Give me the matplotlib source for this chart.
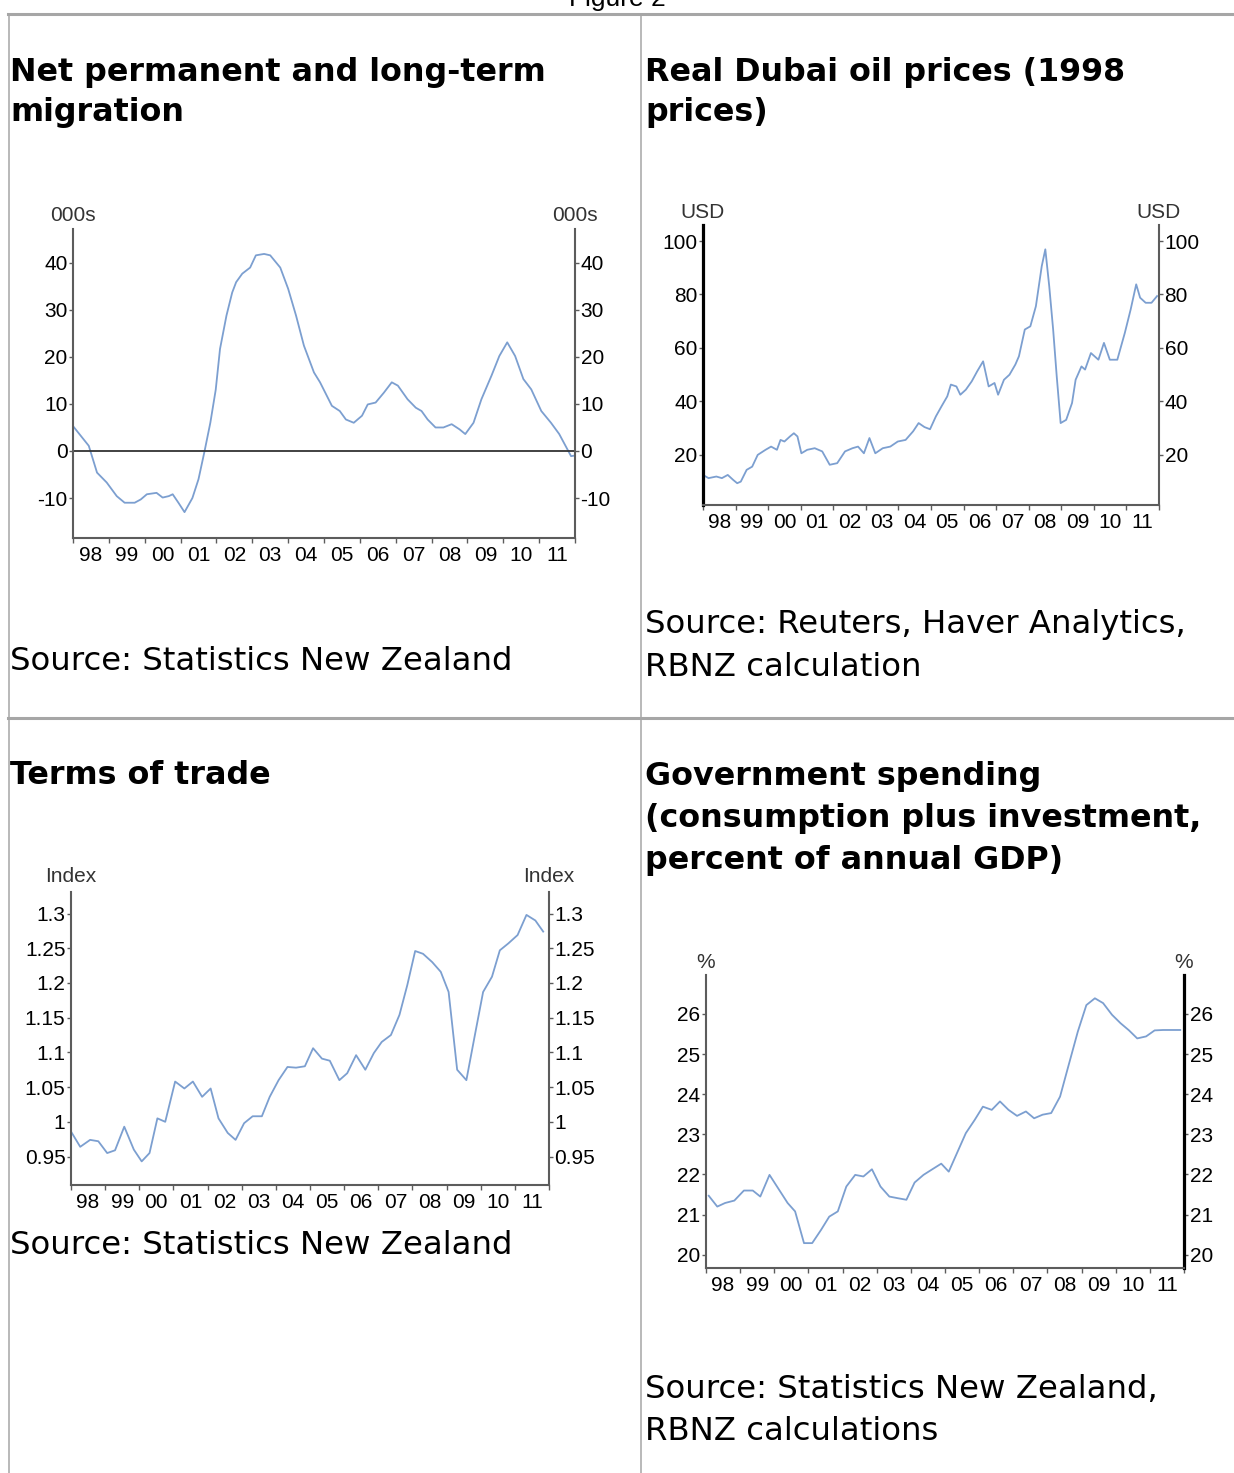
import matplotlib.pyplot as plt
import numpy as np
from matplotlib.lines import Line2D

W, H = 1234, 1473

# x axis labels shared by all four charts
years = np.arange(1998, 2013)
year_labels = ['98', '99', '00', '01', '02', '03', '04', '05', '06', '07', '08', '09', '10', '11']

# Net permanent and long-term migration (000s)
mig_t = [1998.0, 1998.44, 1998.67, 1998.94, 1999.22, 1999.44, 1999.72, 1999.89, 2000.06, 2000.33,
         2000.5, 2000.67, 2000.78, 2000.94, 2001.11, 2001.33, 2001.5, 2001.67, 2001.83, 2001.98,
         2002.1, 2002.28, 2002.44, 2002.55, 2002.72, 2002.94, 2003.1, 2003.33, 2003.5, 2003.78,
         2004.0, 2004.22, 2004.44, 2004.72, 2004.89, 2005.22, 2005.44, 2005.61, 2005.83, 2006.06,
         2006.22, 2006.44, 2006.67, 2006.89, 2007.06, 2007.33, 2007.56, 2007.72, 2007.89, 2008.11,
         2008.33, 2008.56, 2008.78, 2008.94, 2009.17, 2009.39, 2009.67, 2009.89, 2010.11, 2010.33,
         2010.56, 2010.78, 2011.06, 2011.33, 2011.56, 2011.89, 2011.97]
mig_v = [5.3, 1.1, -4.6, -6.7, -9.6, -11.0, -11.0, -10.3, -9.2, -8.9,
         -9.9, -9.6, -9.2, -11.0, -13.0, -10.0, -6.0, 0.0, 6.0, 13.0,
         21.7, 28.8, 33.7, 35.9, 37.7, 39.0, 41.6, 41.9, 41.6, 39.0,
         34.5, 28.8, 22.4, 16.7, 14.6, 9.6, 8.5, 6.7, 6.0, 7.5,
         9.9, 10.3, 12.4, 14.6, 13.9, 11.0, 9.2, 8.5, 6.7, 5.0,
         5.0, 5.7, 4.6, 3.6, 6.0, 11.0, 16.0, 20.2, 23.1, 20.2,
         15.3, 13.1, 8.5, 6.0, 3.6, -1.1, -1.0]

# Real Dubai oil prices (USD, 1998 prices)
oil_t = [1998.0, 1998.17, 1998.41, 1998.58, 1998.76, 1998.93, 1999.05, 1999.16, 1999.34, 1999.51,
         1999.68, 1999.92, 2000.09, 2000.27, 2000.38, 2000.5, 2000.67, 2000.79, 2000.9, 2001.02,
         2001.2, 2001.43, 2001.66, 2001.89, 2002.12, 2002.36, 2002.59, 2002.76, 2002.94, 2003.11,
         2003.29, 2003.52, 2003.75, 2003.98, 2004.22, 2004.45, 2004.62, 2004.8, 2004.97, 2005.15,
         2005.32, 2005.5, 2005.61, 2005.78, 2005.9, 2006.07, 2006.25, 2006.42, 2006.6, 2006.77,
         2006.95, 2007.06, 2007.24, 2007.41, 2007.59, 2007.7, 2007.88, 2008.05, 2008.22, 2008.4,
         2008.51, 2008.63, 2008.75, 2008.86, 2008.98, 2009.15, 2009.33, 2009.44, 2009.62, 2009.73,
         2009.91, 2010.14, 2010.31, 2010.49, 2010.72, 2010.95, 2011.13, 2011.3, 2011.42, 2011.59,
         2011.77, 2011.94]
oil_v = [12.5, 11.3, 11.9, 11.3, 12.5, 10.6, 9.4, 10.0, 14.4, 15.6,
         20.0, 21.9, 23.1, 21.9, 25.6, 25.0, 26.9, 28.1, 26.9, 20.6,
         21.9, 22.5, 21.3, 16.3, 16.9, 21.3, 22.5, 23.1, 20.6, 26.3,
         20.6, 22.5, 23.1, 25.0, 25.6, 28.8, 31.9, 30.4, 29.6, 34.4,
         38.1, 41.9, 46.3, 45.6, 42.5, 44.4, 47.5, 51.3, 55.0, 45.6,
         46.9, 42.5, 48.1, 50.0, 53.8, 56.9, 66.9, 68.1, 75.6, 90.6,
         96.9, 83.1, 66.9, 49.4, 31.9, 33.1, 39.4, 48.1, 53.1, 51.9,
         58.1, 55.6, 61.9, 55.6, 55.6, 65.6, 74.4, 83.8, 78.8, 76.9,
         76.9, 79.4]

# Terms of trade (index)
tot_t = [1998.0, 1998.27, 1998.56, 1998.8, 1999.06, 1999.29, 1999.56, 1999.84, 2000.07, 2000.3,
         2000.53, 2000.76, 2001.05, 2001.32, 2001.57, 2001.84, 2002.09, 2002.32, 2002.59, 2002.82,
         2003.07, 2003.32, 2003.59, 2003.82, 2004.08, 2004.34, 2004.59, 2004.85, 2005.09, 2005.35,
         2005.58, 2005.86, 2006.09, 2006.35, 2006.62, 2006.87, 2007.1, 2007.37, 2007.62, 2007.85,
         2008.08, 2008.31, 2008.58, 2008.83, 2009.06, 2009.31, 2009.58, 2009.81, 2010.07, 2010.33,
         2010.56, 2010.81, 2011.08, 2011.34, 2011.6, 2011.83]
tot_v = [0.986, 0.964, 0.974, 0.972, 0.955, 0.959, 0.993, 0.960, 0.943, 0.955,
         1.005, 1.000, 1.058, 1.048, 1.058, 1.036, 1.048, 1.005, 0.984, 0.974,
         0.998, 1.008, 1.008, 1.036, 1.060, 1.079, 1.078, 1.080, 1.106, 1.091,
         1.088, 1.060, 1.070, 1.096, 1.075, 1.099, 1.115, 1.125, 1.154, 1.197,
         1.246, 1.242, 1.230, 1.216, 1.187, 1.075, 1.060, 1.120, 1.187, 1.209,
         1.247, 1.257, 1.269, 1.298, 1.290, 1.274]

# Government spending (% of annual GDP)
gov_t = [1998.08, 1998.33, 1998.56, 1998.83, 1999.11, 1999.37, 1999.59, 1999.86, 2000.11, 2000.39,
         2000.61, 2000.87, 2001.11, 2001.37, 2001.61, 2001.86, 2002.11, 2002.37, 2002.61, 2002.86,
         2003.11, 2003.37, 2003.61, 2003.87, 2004.11, 2004.37, 2004.61, 2004.89, 2005.11, 2005.37,
         2005.61, 2005.87, 2006.11, 2006.37, 2006.61, 2006.86, 2007.11, 2007.37, 2007.61, 2007.86,
         2008.11, 2008.37, 2008.61, 2008.89, 2009.14, 2009.39, 2009.63, 2009.89, 2010.14, 2010.39,
         2010.63, 2010.89, 2011.14, 2011.39, 2011.63, 2011.89]
gov_v = [21.47, 21.2, 21.29, 21.35, 21.6, 21.6, 21.45, 21.99, 21.66, 21.29,
         21.08, 20.29, 20.29, 20.62, 20.95, 21.08, 21.7, 21.99, 21.95, 22.13,
         21.7, 21.45, 21.41, 21.37, 21.8, 21.99, 22.12, 22.27, 22.07, 22.57,
         23.03, 23.36, 23.69, 23.61, 23.82, 23.61, 23.46, 23.57, 23.4, 23.49,
         23.53, 23.94, 24.69, 25.56, 26.22, 26.39, 26.27, 25.98, 25.77, 25.59,
         25.39, 25.44, 25.59, 25.6, 25.6, 25.6]

line_col = '#7c9fd0'
spine_col = '#5c5c5c'
grid_col = '#a6a6a6'
tick_font = 'Liberation Sans'

fig = plt.figure(figsize=(W / 100, H / 100), dpi=100)


def box(l, t, r, b):
    return [l / W, 1 - b / H, (r - l) / W, (b - t) / H]


def fline(xs, ys, lw, color):
    fig.add_artist(Line2D([x / W for x in xs], [1 - y / H for y in ys],
                          transform=fig.transFigure, lw=lw, color=color))


def ftext(x, y, s, **kw):
    fig.text(x / W, 1 - y / H, s, va='center', ha='left', family='DejaVu Sans', **kw)


# table grid
fline([8, W], [14, 14], 2.2, grid_col)
fline([8, W], [718, 718], 2.2, grid_col)
fline([8.5, 8.5], [14, H], 1.1, grid_col)
fline([641, 641], [14, H], 1.1, grid_col)
# caption sits mostly above the top edge, as in the page snapshot
fig.text(617 / W, 1 - 6 / H, 'Figure 2', ha='center', va='baseline',
         family='Liberation Sans', fontsize=19)

# titles and sources
title_kw = dict(fontsize=22.9, fontweight='bold')
src_kw = dict(fontsize=23.3)
ftext(10, 72, 'Net permanent and long-term', **title_kw)
ftext(10, 113, 'migration', **title_kw)
ftext(645, 72, 'Real Dubai oil prices (1998', **title_kw)
ftext(645, 113, 'prices)', **title_kw)
ftext(10, 776, 'Terms of trade', **title_kw)
ftext(645, 776, 'Government spending', **title_kw)
ftext(645, 818, '(consumption plus investment,', **title_kw)
ftext(645, 860, 'percent of annual GDP)', **title_kw)

ftext(10, 661, 'Source: Statistics New Zealand', **src_kw)
ftext(645, 625, 'Source: Reuters, Haver Analytics,', **src_kw)
ftext(645, 667, 'RBNZ calculation', **src_kw)
ftext(10, 1246, 'Source: Statistics New Zealand', **src_kw)
ftext(645, 1389, 'Source: Statistics New Zealand,', **src_kw)
ftext(645, 1431, 'RBNZ calculations', **src_kw)


def chart(pos, t, v, ylim, yticks, ylabels, unit, unit_off, bold_side=None):
    ax = fig.add_axes(box(*pos))
    ax.plot(t, v, color=line_col, lw=1.3)
    ax.set_xlim(1998, 2012)
    ax.set_ylim(*ylim)
    for s in ['left', 'right', 'bottom']:
        ax.spines[s].set_color(spine_col)
        ax.spines[s].set_linewidth(1.5)
    ax.spines['top'].set_visible(False)
    if bold_side:
        ax.spines[bold_side].set_color('black')
        ax.spines[bold_side].set_linewidth(2.3)
    ax.set_xticks(years)
    ax.set_xticklabels([])
    ax.set_xticks(years[:-1] + 0.5, minor=True)
    ax.set_xticklabels(year_labels, minor=True, family=tick_font, fontsize=15)
    ax.tick_params(axis='x', which='major', direction='out', length=3.5, width=1, color=spine_col)
    ax.tick_params(axis='x', which='minor', length=0, pad=6)
    ax.set_yticks(yticks)
    ax.set_yticklabels(ylabels, family=tick_font, fontsize=15)
    ax.tick_params(axis='y', direction='out', length=3, width=1, color=spine_col, pad=1,
                   left=True, right=True, labelleft=True, labelright=True)
    for x in (0, 1):
        ax.annotate(unit, xy=(x, 1), xycoords='axes fraction', xytext=(0, unit_off),
                    textcoords='offset points', ha='center', va='center',
                    family=tick_font, fontsize=15, color='#333333')
    return ax


ax1 = chart((73, 229, 575, 538), mig_t, mig_v, (-18.5, 47.2), [-10, 0, 10, 20, 30, 40],
            ['-10', '0', '10', '20', '30', '40'], '000s', 10)
ax1.axhline(0, color='#333333', lw=1.3)

chart((703, 225, 1159, 505), oil_t, oil_v, (1.25, 106), [20, 40, 60, 80, 100],
      ['20', '40', '60', '80', '100'], 'USD', 9, bold_side='left')

tot_ticks = [0.95, 1.0, 1.05, 1.1, 1.15, 1.2, 1.25, 1.3]
chart((71, 892, 549, 1185), tot_t, tot_v, (0.909, 1.331), tot_ticks,
      ['0.95', '1', '1.05', '1.1', '1.15', '1.2', '1.25', '1.3'], 'Index', 11)

chart((706, 975, 1184, 1268), gov_t, gov_v, (19.67, 26.97), [20, 21, 22, 23, 24, 25, 26],
      ['20', '21', '22', '23', '24', '25', '26'], '%', 9, bold_side='right')

fig.savefig('out.png', dpi=100)
